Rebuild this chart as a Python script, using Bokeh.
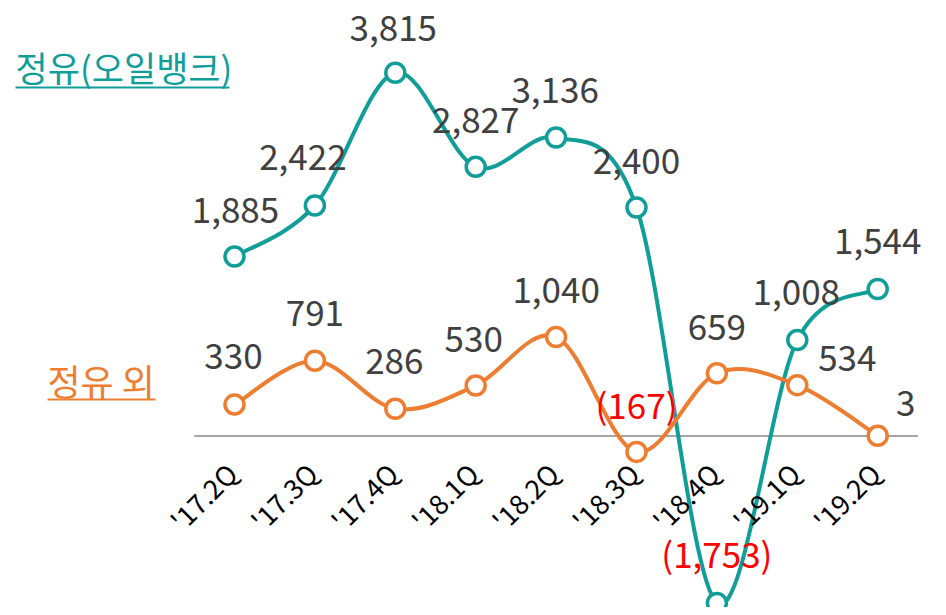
import numpy as np
from bokeh.plotting import figure
from bokeh.models import Range1d, ColumnDataSource
from bokeh.core.properties import value
from bokeh.embed import file_html
from bokeh.resources import INLINE

# ---------------- data ----------------
quarters = ["'17.2Q", "'17.3Q", "'17.4Q", "'18.1Q", "'18.2Q", "'18.3Q", "'18.4Q", "'19.1Q", "'19.2Q"]
refinery = [1885, 2422, 3815, 2827, 3136, 2400, -1753, 1008, 1544]
non_refinery = [330, 791, 286, 530, 1040, -167, 659, 534, 3]
series_names = ["정유(오일뱅크)", "정유 외"]

# ---------------- style ----------------
TEAL = "#119E99"
ORANGE = "#ED7D31"
LABEL_GRAY = "#404040"
FONT = "Noto Sans CJK KR"

W, H = 938, 607
# layout (pixels): first category at 234, step 80.4, zero line at 435.5, 0.0952 px/unit
X0_PX, STEP_PX = 234, 80.4
Y0_PX, SCALE = 435.5, 0.0952
x_lo = -X0_PX / STEP_PX
x_hi = (W - X0_PX) / STEP_PX
y_hi = Y0_PX / SCALE
y_lo = (Y0_PX - H) / SCALE


def px_x(page_x):
    return (page_x - X0_PX) / STEP_PX


def px_y(page_y):
    return (Y0_PX - page_y) / SCALE


p = figure(width=W, height=H, x_range=Range1d(x_lo, x_hi), y_range=Range1d(y_lo, y_hi),
           x_axis_type=None, y_axis_type=None, output_backend="svg",
           toolbar_location=None, min_border=0)
p.grid.visible = False
p.outline_line_color = None
p.background_fill_color = "white"
p.border_fill_color = "white"

xs = np.arange(len(quarters), dtype=float)

# zero baseline
p.segment(x0=[-0.5], y0=[0], x1=[len(quarters) - 0.5], y1=[0], line_color="#A6A6A6", line_width=2)


def smooth(xv, yv):
    xv = np.asarray(xv, float)
    yv = np.asarray(yv, float)
    xp = np.concatenate([[xv[0]], xv, [xv[-1]]])
    yp = np.concatenate([[yv[0]], yv, [yv[-1]]])
    n = len(xv)
    d = dict(x0=[], y0=[], x1=[], y1=[], cx0=[], cy0=[], cx1=[], cy1=[])
    for i in range(n - 1):
        a, b, c, e = i, i + 1, i + 2, i + 3
        d["x0"].append(xp[b]); d["y0"].append(yp[b])
        d["x1"].append(xp[c]); d["y1"].append(yp[c])
        d["cx0"].append(xp[b] + (xp[c] - xp[a]) / 6)
        d["cy0"].append(yp[b] + (yp[c] - yp[a]) / 6)
        d["cx1"].append(xp[c] - (xp[e] - xp[b]) / 6)
        d["cy1"].append(yp[c] - (yp[e] - yp[b]) / 6)
    return d


def fmt(v):
    return f"({abs(v):,})" if v < 0 else f"{v:,}"


def draw_series(vals, color, dx, dy):
    p.bezier(source=ColumnDataSource(smooth(xs, vals)), x0="x0", y0="y0", x1="x1", y1="y1",
             cx0="cx0", cy0="cy0", cx1="cx1", cy1="cy1", line_color=color, line_width=4,
             line_cap="round")
    p.scatter(xs, vals, size=19, marker="circle", fill_color="white", line_color=color, line_width=3.5)
    src = ColumnDataSource(dict(
        x=xs, y=vals, t=[fmt(v) for v in vals],
        c=["#FF0000" if v < 0 else LABEL_GRAY for v in vals],
        dx=dx, dy=dy))
    p.text(x="x", y="y", text="t", source=src, text_color="c", text_font=value(FONT),
           text_font_size="35px", text_align="center", text_baseline="middle",
           x_offset="dx", y_offset="dy")


draw_series(refinery, TEAL,
            [1, -12, -2, 0, -1, 0, 0, -1, 0],
            [-47, -48, -45, -47, -47, -47, -50, -48, -48])
draw_series(non_refinery, ORANGE,
            [-1, 0, -1, -2, 0, 0, 0, 50, 28],
            [-49, -48, -48, -47, -47, -48, -46, -27, -33])

# category labels
p.text(x=xs, y=np.zeros(len(xs)), text=quarters, text_font=value(FONT), text_font_size="27px",
       text_color="black", text_align="right", text_baseline="middle", angle=np.pi / 4,
       x_offset=-3, y_offset=32)

# series labels (underlined)
p.text(x=[px_x(15), px_x(47)], y=[px_y(66), px_y(379)], text=series_names,
       text_color=[TEAL, ORANGE], text_font=value(FONT), text_font_size=["35px", "36px"],
       text_align="left", text_baseline="middle")
p.segment(x0=[px_x(15), px_x(47)], y0=[px_y(87), px_y(399)],
          x1=[px_x(229), px_x(155)], y1=[px_y(87), px_y(399)],
          line_color=[TEAL, ORANGE], line_width=2)

open("out.html", "w").write(file_html(p, INLINE))
